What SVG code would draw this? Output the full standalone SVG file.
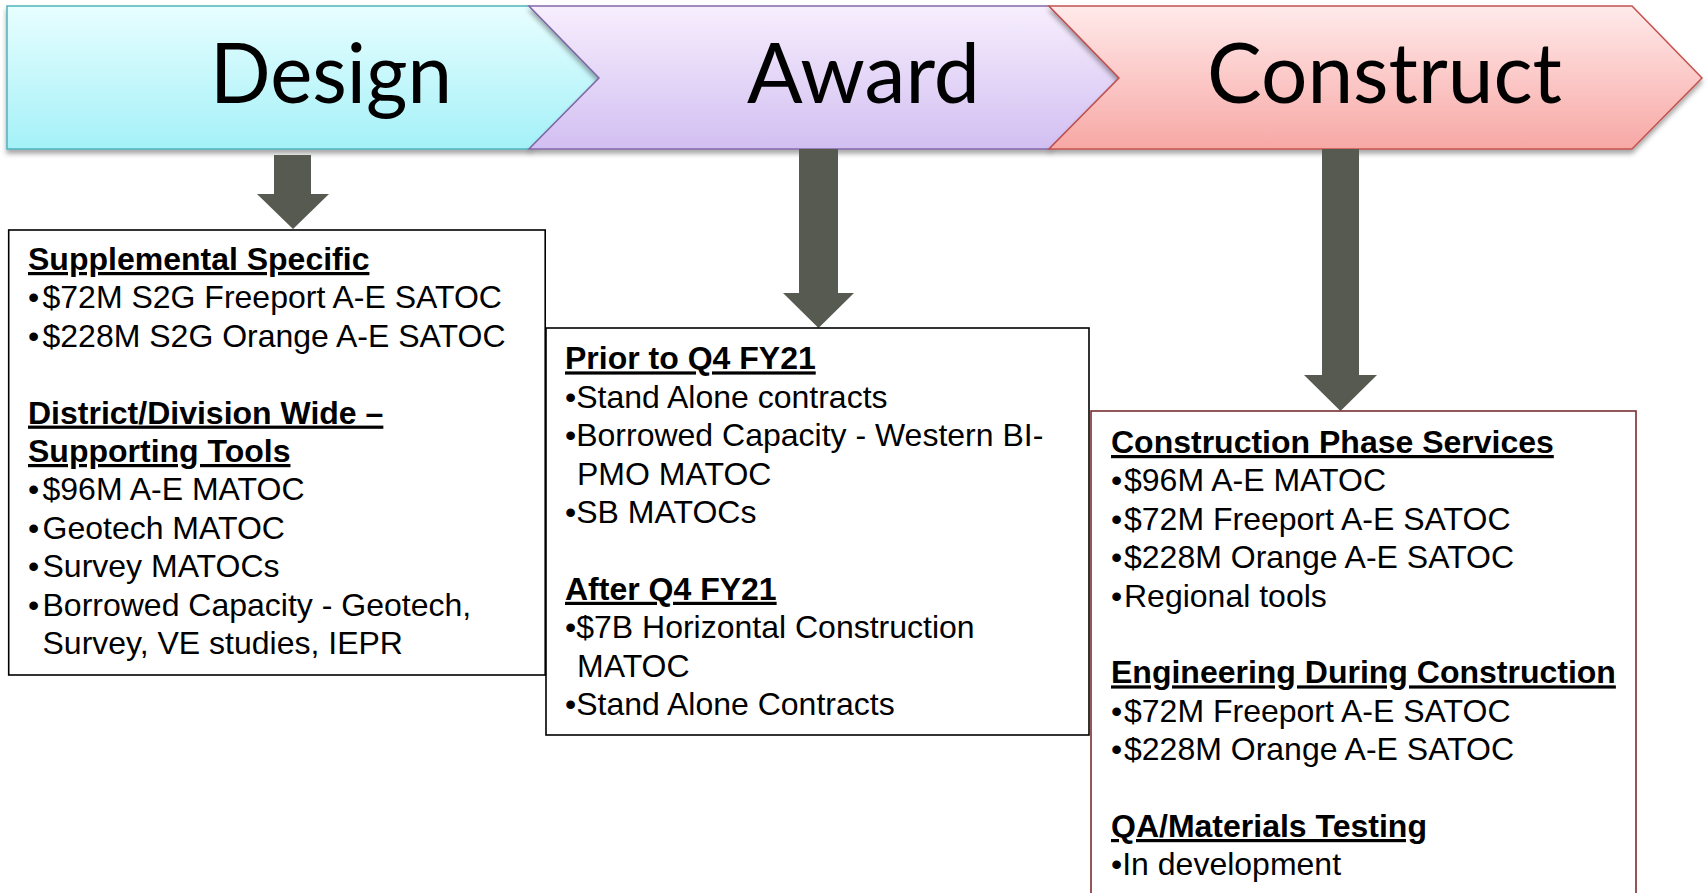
<svg xmlns="http://www.w3.org/2000/svg" width="1708" height="893" viewBox="0 0 1708 893">
<defs>
<linearGradient id="gD" x1="0" y1="0" x2="0" y2="1"><stop offset="0" stop-color="#e8feff"/><stop offset="1" stop-color="#a4f1f8"/></linearGradient>
<linearGradient id="gA" x1="0" y1="0" x2="0" y2="1"><stop offset="0" stop-color="#f7eefd"/><stop offset="1" stop-color="#d2bff2"/></linearGradient>
<linearGradient id="gC" x1="0" y1="0" x2="0" y2="1"><stop offset="0" stop-color="#ffeaea"/><stop offset="1" stop-color="#f7a8a5"/></linearGradient>
<filter id="sh" x="-5%" y="-10%" width="110%" height="130%"><feDropShadow dx="0" dy="4" stdDeviation="2.5" flood-color="#000" flood-opacity="0.35"/></filter>
</defs>
<style>
.title{font-family:Lato,"Open Sans",sans-serif;font-size:84px;fill:#000}
.t{font-family:"Liberation Sans",Arial,sans-serif;font-size:32px;fill:#000}
.h{font-family:"Liberation Sans",Arial,sans-serif;font-size:32px;font-weight:bold;text-decoration:underline;fill:#000}
.box{fill:#fff;stroke:#000;stroke-width:1.6}
.arr{fill:#575a50}
</style>
<rect width="1708" height="893" fill="#fff"/>

<g id="design">
<polygon points="7,6 529,6 599,78 529,149 7,149" fill="url(#gD)" stroke="#4fb2bd" stroke-width="1.5" filter="url(#sh)"/>
<text class="title" x="210" y="103" textLength="242" lengthAdjust="spacingAndGlyphs">Design</text>
</g>
<g id="award">
<polygon points="529,6 1049,6 1119,78 1049,149 529,149 599,78" fill="url(#gA)" stroke="#8468a8" stroke-width="1.5" filter="url(#sh)"/>
<text class="title" x="747" y="103" textLength="233" lengthAdjust="spacingAndGlyphs">Award</text>
</g>
<g id="construct">
<polygon points="1049,6 1632,6 1702,78 1632,149 1049,149 1119,78" fill="url(#gC)" stroke="#c4524f" stroke-width="1.5" filter="url(#sh)"/>
<text class="title" x="1207" y="103" textLength="355" lengthAdjust="spacingAndGlyphs">Construct</text>
</g>

<g id="connectors">
<polygon class="arr" points="274,155 311,155 311,194 329,194 293,229 257,194 274,194"/>
<polygon class="arr" points="799,149 838,149 838,293 854,293 818.5,328 783,293 799,293"/>
<polygon class="arr" points="1322,149 1359,149 1359,375 1377,375 1340.5,411 1304,375 1322,375"/>
</g>

<g id="design-box">
<rect class="box" x="8.7" y="230" width="536.5" height="445"/>
<g transform="translate(0,-1)">
<text class="h" x="28" y="271">Supplemental Specific</text>
<text class="t" y="309.4"><tspan x="28">•</tspan><tspan x="42.5">$72M S2G Freeport A-E SATOC</tspan></text>
<text class="t" y="347.8"><tspan x="28">•</tspan><tspan x="42.5">$228M S2G Orange A-E SATOC</tspan></text>
<text class="h" x="28" y="424.6">District/Division Wide –</text>
<text class="h" x="28" y="463">Supporting Tools</text>
<text class="t" y="501.4"><tspan x="28">•</tspan><tspan x="42.5">$96M A-E MATOC</tspan></text>
<text class="t" y="539.8"><tspan x="28">•</tspan><tspan x="42.5">Geotech MATOC</tspan></text>
<text class="t" y="578.2"><tspan x="28">•</tspan><tspan x="42.5">Survey MATOCs</tspan></text>
<text class="t" y="616.6"><tspan x="28">•</tspan><tspan x="42.5">Borrowed Capacity - Geotech,</tspan></text>
<text class="t" x="42.5" y="655">Survey, VE studies, IEPR</text>
</g>
</g>

<g id="award-box">
<rect class="box" x="546" y="328" width="543" height="407"/>
<g transform="translate(0,-1)">
<text class="h" x="565" y="370.4">Prior to Q4 FY21</text>
<text class="t" x="565" y="408.8">•Stand Alone contracts</text>
<text class="t" x="565" y="447.2">•Borrowed Capacity - Western BI-</text>
<text class="t" x="577" y="485.6">PMO MATOC</text>
<text class="t" x="565" y="524">•SB MATOCs</text>
<text class="h" x="565" y="600.8">After Q4 FY21</text>
<text class="t" x="565" y="639.2">•$7B Horizontal Construction</text>
<text class="t" x="577" y="677.6">MATOC</text>
<text class="t" x="565" y="716">•Stand Alone Contracts</text>
</g>
</g>

<g id="construct-box">
<rect x="1091" y="411" width="545" height="500" fill="#fff" stroke="#7a2e2e" stroke-width="1.6"/>
<g transform="translate(0,-1)">
<text class="h" x="1111" y="454">Construction Phase Services</text>
<text class="t" y="492.4"><tspan x="1111">•</tspan><tspan x="1124">$96M A-E MATOC</tspan></text>
<text class="t" y="530.8"><tspan x="1111">•</tspan><tspan x="1124">$72M Freeport A-E SATOC</tspan></text>
<text class="t" y="569.2"><tspan x="1111">•</tspan><tspan x="1124">$228M Orange A-E SATOC</tspan></text>
<text class="t" y="607.6"><tspan x="1111">•</tspan><tspan x="1124">Regional tools</tspan></text>
<text class="h" x="1111" y="684.4">Engineering During Construction</text>
<text class="t" y="722.8"><tspan x="1111">•</tspan><tspan x="1124">$72M Freeport A-E SATOC</tspan></text>
<text class="t" y="761.2"><tspan x="1111">•</tspan><tspan x="1124">$228M Orange A-E SATOC</tspan></text>
<text class="h" x="1111" y="838">QA/Materials Testing</text>
<text class="t" x="1111" y="876.4">•In development</text>
</g>
</g>
</svg>
